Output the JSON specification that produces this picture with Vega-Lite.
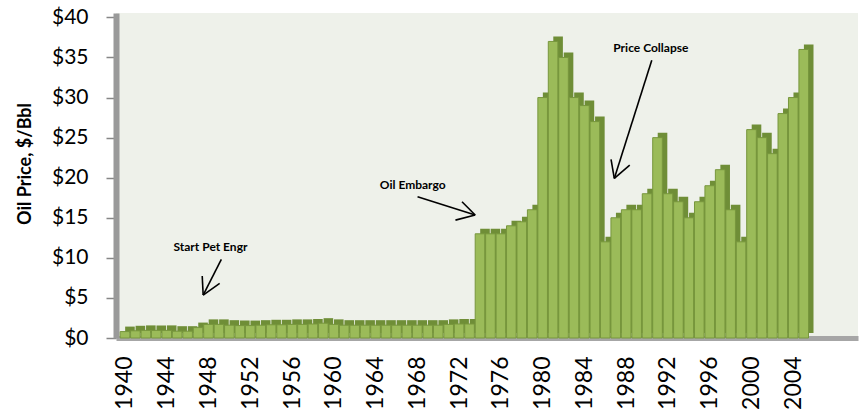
{
  "$schema": "https://vega.github.io/schema/vega-lite/v6.json",
  "width": 742,
  "height": 325,
  "autosize": {"type": "none"},
  "padding": {"left": 116, "top": 13, "right": 3, "bottom": 75},
  "background": "white",
  "config": {
    "font": "Lato",
    "view": {"fill": "#EEF1EA", "stroke": null}
  },
  "datasets": {
    "prices": [
      {"year": 1940, "price": 0.8}, {"year": 1941, "price": 0.9}, {"year": 1942, "price": 0.95},
      {"year": 1943, "price": 0.95}, {"year": 1944, "price": 0.95}, {"year": 1945, "price": 0.85},
      {"year": 1946, "price": 0.85}, {"year": 1947, "price": 1.3}, {"year": 1948, "price": 1.7},
      {"year": 1949, "price": 1.7}, {"year": 1950, "price": 1.6}, {"year": 1951, "price": 1.55},
      {"year": 1952, "price": 1.55}, {"year": 1953, "price": 1.6}, {"year": 1954, "price": 1.65},
      {"year": 1955, "price": 1.65}, {"year": 1956, "price": 1.7}, {"year": 1957, "price": 1.7},
      {"year": 1958, "price": 1.75}, {"year": 1959, "price": 1.85}, {"year": 1960, "price": 1.7},
      {"year": 1961, "price": 1.6}, {"year": 1962, "price": 1.6}, {"year": 1963, "price": 1.6},
      {"year": 1964, "price": 1.6}, {"year": 1965, "price": 1.6}, {"year": 1966, "price": 1.6},
      {"year": 1967, "price": 1.6}, {"year": 1968, "price": 1.6}, {"year": 1969, "price": 1.6},
      {"year": 1970, "price": 1.6}, {"year": 1971, "price": 1.7}, {"year": 1972, "price": 1.75},
      {"year": 1973, "price": 1.75}, {"year": 1974, "price": 13}, {"year": 1975, "price": 13},
      {"year": 1976, "price": 13}, {"year": 1977, "price": 14}, {"year": 1978, "price": 14.5},
      {"year": 1979, "price": 16}, {"year": 1980, "price": 30}, {"year": 1981, "price": 37},
      {"year": 1982, "price": 35}, {"year": 1983, "price": 30}, {"year": 1984, "price": 29},
      {"year": 1985, "price": 27}, {"year": 1986, "price": 12}, {"year": 1987, "price": 15},
      {"year": 1988, "price": 16}, {"year": 1989, "price": 16}, {"year": 1990, "price": 18},
      {"year": 1991, "price": 25}, {"year": 1992, "price": 18}, {"year": 1993, "price": 17},
      {"year": 1994, "price": 15}, {"year": 1995, "price": 17}, {"year": 1996, "price": 19},
      {"year": 1997, "price": 21}, {"year": 1998, "price": 16}, {"year": 1999, "price": 12},
      {"year": 2000, "price": 26}, {"year": 2001, "price": 25}, {"year": 2002, "price": 23},
      {"year": 2003, "price": 28}, {"year": 2004, "price": 30}, {"year": 2005, "price": 36}
    ],
    "arrows": [
      {"x1": 1949.23, "y1": 9.81, "x2": 1947.49, "y2": 5.36},
      {"x1": 1947.40, "y1": 7.73, "x2": 1947.49, "y2": 5.36},
      {"x1": 1949.07, "y1": 6.82, "x2": 1947.49, "y2": 5.36},
      {"x1": 1968.02, "y1": 17.62, "x2": 1973.54, "y2": 15.34},
      {"x1": 1972.28, "y1": 17.0, "x2": 1973.54, "y2": 15.34},
      {"x1": 1971.65, "y1": 14.71, "x2": 1973.54, "y2": 15.34},
      {"x1": 1990.45, "y1": 34.66, "x2": 1986.86, "y2": 19.91},
      {"x1": 1986.55, "y1": 22.28, "x2": 1986.86, "y2": 19.91},
      {"x1": 1988.34, "y1": 21.57, "x2": 1986.86, "y2": 19.91}
    ],
    "notes": [
      {"label": "Start Pet Engr", "x": 1948.19, "y": 10.91},
      {"label": "Oil Embargo", "x": 1967.56, "y": 18.58},
      {"label": "Price Collapse", "x": 1990.36, "y": 35.72}
    ]
  },
  "layer": [
    {
      "data": {"name": "prices"},
      "mark": {"type": "bar", "orient": "vertical", "width": 9.6, "fill": "#6F8E37", "xOffset": 5, "yOffset": -5},
      "encoding": {
        "x": {
          "field": "year", "type": "quantitative",
          "scale": {"domain": [1939.622, 2009.72], "nice": false, "zero": false},
          "axis": {
            "title": null,
            "values": [1940, 1944, 1948, 1952, 1956, 1960, 1964, 1968, 1972, 1976, 1980, 1984, 1988, 1992, 1996, 2000, 2004],
            "format": "d",
            "labelAngle": -90,
            "labelFontSize": 23,
            "labelColor": "#000000",
            "labelPadding": 18,
            "labelOverlap": false,
            "labelFlush": false,
            "ticks": false,
            "grid": false,
            "domainColor": "#A6A6A6",
            "domainWidth": 5
          }
        },
        "y": {
          "field": "price", "type": "quantitative",
          "scale": {"domain": [0, 40.55], "nice": false},
          "axis": {
            "title": "Oil Price, $/Bbl",
            "titleFontSize": 18,
            "titleFontWeight": "bold",
            "titleColor": "#000000",
            "titleAngle": -90,
            "titleAlign": "center",
            "titleBaseline": "middle",
            "titleX": -91,
            "titleY": 150.5,
            "values": [0, 5, 10, 15, 20, 25, 30, 35, 40],
            "labelExpr": "'$' + datum.value",
            "labelFontSize": 21,
            "labelColor": "#000000",
            "labelPadding": 18,
            "tickSize": 10,
            "tickColor": "#868686",
            "tickWidth": 1.5,
            "grid": false,
            "domainColor": "#9A9A9A",
            "domainWidth": 6
          }
        }
      }
    },
    {
      "data": {"name": "prices"},
      "mark": {"type": "bar", "orient": "vertical", "width": 9.6, "fill": "#9BBB59", "stroke": "#77963D", "strokeWidth": 1},
      "encoding": {
        "x": {"field": "year", "type": "quantitative"},
        "y": {"field": "price", "type": "quantitative"}
      }
    },
    {
      "data": {"name": "arrows"},
      "mark": {"type": "rule", "color": "#000000", "strokeWidth": 1.6},
      "encoding": {
        "x": {"field": "x1", "type": "quantitative"},
        "y": {"field": "y1", "type": "quantitative"},
        "x2": {"field": "x2"},
        "y2": {"field": "y2"}
      }
    },
    {
      "data": {"name": "notes"},
      "mark": {"type": "text", "fontSize": 12, "fontWeight": "bold", "color": "#000000", "align": "center", "baseline": "alphabetic"},
      "encoding": {
        "x": {"field": "x", "type": "quantitative"},
        "y": {"field": "y", "type": "quantitative"},
        "text": {"field": "label"}
      }
    }
  ]
}
